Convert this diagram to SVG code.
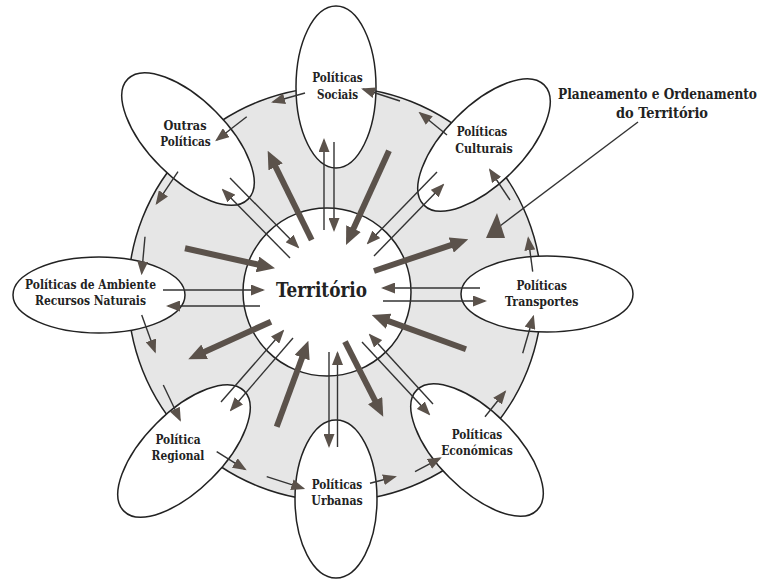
<svg xmlns="http://www.w3.org/2000/svg" width="764" height="580" viewBox="0 0 764 580">
<style>
.ring{fill:#e6e6e6;stroke:#222;stroke-width:1.5}
.node{fill:#fff;stroke:#222;stroke-width:1.5}
.lbl{font-family:"DejaVu Serif Condensed","DejaVu Serif",serif;font-weight:bold;font-size:13px;fill:#222;text-anchor:middle}
.big{font-size:15px}
.ter{font-size:19.5px}
.thin{stroke:#333;stroke-width:1.4;fill:none;marker-end:url(#ht)}
.thick{stroke:#5b524b;stroke-width:6;fill:none;marker-end:url(#hk)}
</style>
<defs>
<marker id="ht" markerUnits="userSpaceOnUse" markerWidth="14" markerHeight="11" refX="12" refY="5.5" orient="auto"><path d="M0,0 L14,5.5 L0,11 Z" fill="#5b524b"/></marker>
<marker id="hk" markerUnits="userSpaceOnUse" markerWidth="18" markerHeight="16" refX="6" refY="8" orient="auto"><path d="M0,0 L18,8 L0,16 Z" fill="#5b524b"/></marker>
</defs>
<rect width="764" height="580" fill="#fff"/>
<circle id="ring" class="ring" cx="335" cy="294" r="207"/>
<g id="territorio"><circle class="node" cx="327" cy="292" r="84"/><text class="lbl ter" x="321.5" y="297" textLength="91" lengthAdjust="spacingAndGlyphs">Território</text></g>
<g id="sociais"><ellipse class="node" cx="336" cy="87" rx="40" ry="81"/><text class="lbl" x="337.5" y="82" textLength="50.6" lengthAdjust="spacingAndGlyphs">Políticas</text><text class="lbl" x="337.5" y="98.5" textLength="41.2" lengthAdjust="spacingAndGlyphs">Sociais</text></g>
<g id="outras"><ellipse class="node" cx="188" cy="139" rx="85" ry="39" transform="rotate(45 188 139)"/><text class="lbl" x="185" y="130" textLength="43" lengthAdjust="spacingAndGlyphs">Outras</text><text class="lbl" x="185.5" y="146" textLength="50.6" lengthAdjust="spacingAndGlyphs">Políticas</text></g>
<g id="culturais"><ellipse class="node" cx="484" cy="145" rx="85" ry="39" transform="rotate(-45 484 145)"/><text class="lbl" x="482" y="136" textLength="50.6" lengthAdjust="spacingAndGlyphs">Políticas</text><text class="lbl" x="484" y="153" textLength="57.5" lengthAdjust="spacingAndGlyphs">Culturais</text></g>
<g id="ambiente"><ellipse class="node" cx="99" cy="295" rx="86" ry="38"/><text class="lbl" x="90.5" y="288.5" textLength="131" lengthAdjust="spacingAndGlyphs">Políticas de Ambiente</text><text class="lbl" x="90.5" y="305" textLength="111" lengthAdjust="spacingAndGlyphs">Recursos Naturais</text></g>
<g id="transportes"><ellipse class="node" cx="547" cy="294" rx="86" ry="38"/><text class="lbl" x="541.7" y="290" textLength="50.6" lengthAdjust="spacingAndGlyphs">Políticas</text><text class="lbl" x="541.7" y="306" textLength="73.2" lengthAdjust="spacingAndGlyphs">Transportes</text></g>
<g id="regional"><ellipse class="node" cx="184" cy="451" rx="85" ry="39" transform="rotate(-45 184 451)"/><text class="lbl" x="178" y="443.5" textLength="45.1" lengthAdjust="spacingAndGlyphs">Política</text><text class="lbl" x="178" y="460" textLength="52.8" lengthAdjust="spacingAndGlyphs">Regional</text></g>
<g id="urbanas"><ellipse class="node" cx="336" cy="499" rx="41" ry="79"/><text class="lbl" x="337" y="488.5" textLength="50.6" lengthAdjust="spacingAndGlyphs">Políticas</text><text class="lbl" x="337" y="505" textLength="51.3" lengthAdjust="spacingAndGlyphs">Urbanas</text></g>
<g id="economicas"><ellipse class="node" cx="477" cy="450" rx="85" ry="39" transform="rotate(45 477 450)"/><text class="lbl" x="477" y="438.5" textLength="50.6" lengthAdjust="spacingAndGlyphs">Políticas</text><text class="lbl" x="477" y="455" textLength="71.6" lengthAdjust="spacingAndGlyphs">Económicas</text></g>
<g id="label"><text class="lbl big" x="757" y="98.5" style="text-anchor:end" textLength="199" lengthAdjust="spacingAndGlyphs">Planeamento e Ordenamento</text><text class="lbl big" x="662" y="117.5" textLength="92" lengthAdjust="spacingAndGlyphs">do Território</text></g>
<g id="connectors">
<line class="thin" x1="305" y1="93" x2="273" y2="102"/>
<line class="thin" x1="400" y1="101" x2="363" y2="89"/>
<line class="thin" x1="447" y1="135" x2="420" y2="113"/>
<line class="thin" x1="246.7" y1="116.7" x2="216.7" y2="140"/>
<line class="thin" x1="178" y1="171.7" x2="156.7" y2="203.3"/>
<line class="thin" x1="145" y1="236.7" x2="141.7" y2="273.3"/>
<line class="thin" x1="141.7" y1="315" x2="155" y2="351.7"/>
<line class="thin" x1="163.3" y1="385" x2="180" y2="420"/>
<line class="thin" x1="216.7" y1="451.7" x2="245" y2="469.3"/>
<line class="thin" x1="266.7" y1="476.7" x2="303.3" y2="488.3"/>
<line class="thin" x1="370" y1="483.3" x2="395" y2="476.7"/>
<line class="thin" x1="415" y1="471.7" x2="440" y2="458.3"/>
<line class="thin" x1="485" y1="416.7" x2="505" y2="391.7"/>
<line class="thin" x1="522.7" y1="353.3" x2="533.3" y2="316.7"/>
<line class="thin" x1="532.7" y1="271.7" x2="528.3" y2="238.3"/>
<line class="thin" x1="510" y1="200" x2="490" y2="170"/>
<line class="thin" x1="324" y1="230" x2="324" y2="140"/>
<line class="thin" x1="334" y1="142" x2="334" y2="230"/>
<line class="thin" x1="329" y1="352" x2="329" y2="446"/>
<line class="thin" x1="337.5" y1="447" x2="337.5" y2="353"/>
<line class="thin" x1="163" y1="290" x2="263" y2="290"/>
<line class="thin" x1="260" y1="306" x2="168" y2="306"/>
<line class="thin" x1="480" y1="288" x2="383" y2="288"/>
<line class="thin" x1="383" y1="301" x2="485" y2="301"/>
<line class="thin" x1="230" y1="178" x2="298" y2="247"/>
<line class="thin" x1="290" y1="258" x2="223" y2="190"/>
<line class="thin" x1="437" y1="172" x2="368" y2="243"/>
<line class="thin" x1="374" y1="256" x2="443" y2="185"/>
<line class="thin" x1="221" y1="402" x2="283" y2="331"/>
<line class="thin" x1="293" y1="338" x2="231" y2="410"/>
<line class="thin" x1="362" y1="342" x2="429" y2="414"/>
<line class="thin" x1="433" y1="404" x2="370" y2="335"/>
<line class="thick" x1="311.7" y1="240" x2="273" y2="161.5"/>
<line class="thick" x1="389" y1="150.7" x2="351" y2="234.1"/>
<line class="thick" x1="374" y1="271" x2="456.9" y2="243.1"/>
<line class="thick" x1="466" y1="349.3" x2="383" y2="319.1"/>
<line class="thick" x1="345" y1="341.7" x2="377.8" y2="406"/>
<line class="thick" x1="276.7" y1="426.7" x2="304.2" y2="352"/>
<line class="thick" x1="271" y1="321.7" x2="199.2" y2="354.3"/>
<line class="thick" x1="185" y1="248.3" x2="263.3" y2="265.7"/>
<line x1="638" y1="122" x2="500" y2="226" stroke="#333" stroke-width="1.4"/>
<polygon points="497,213 486,238 505,238" fill="#5b524b"/>
</g>
</svg>
